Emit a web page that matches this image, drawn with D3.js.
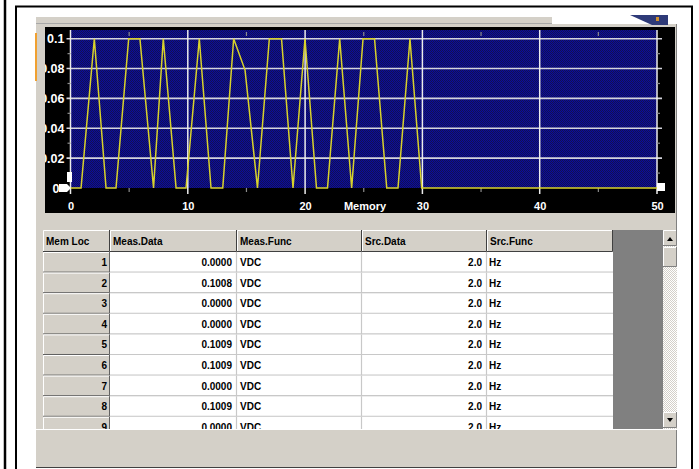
<!DOCTYPE html>
<html>
<head>
<meta charset="utf-8">
<script src="https://cdn.jsdelivr.net/npm/d3@7"></script>
<style>
  body { margin: 0; background: #fff; }
  svg { display: block; }
  .lbl { font-family: "Liberation Sans", Arial, sans-serif; font-weight: bold; }
</style>
</head>
<body>
<div id="chart"></div>
<script>
var memLoc = [0, 0.9, 2.03, 3.03, 3.88, 4.96, 5.92, 7.08, 7.91, 9.0,
              9.85, 10.98, 11.98, 12.98, 13.91, 14.88, 15.94, 16.95, 17.99, 18.97,
              19.99, 20.97, 21.91, 22.95, 23.97, 24.94, 25.92, 26.96, 27.92, 28.94,
              29.94, 50];
var measVal = [0, 0, 0.1, 0, 0, 0.1, 0.1, 0, 0.1, 0,
               0, 0.1, 0, 0, 0.1, 0.079, 0, 0.1, 0.1, 0,
               0.1, 0, 0, 0.1, 0, 0.1, 0.1, 0, 0, 0.1,
               0, 0];

var xTicks = [0, 10, 20, 30, 40, 50];
var yTicks = [0, 0.02, 0.04, 0.06, 0.08, 0.1];
var yTickLabels = ["0", "0.02", "0.04", "0.06", "0.08", "0.1"];
var xMinor = [5, 15, 25, 35, 45];
var yMinor = [0.01, 0.03, 0.05, 0.07, 0.09];

// table below the plot
var colNames = ["Mem Loc", "Meas.Data", "Meas.Func", "Src.Data", "Src.Func"];
var rowLoc = [1, 2, 3, 4, 5, 6, 7, 8, 9];
var measData = ["0.0000", "0.1008", "0.0000", "0.0000", "0.1009", "0.1009", "0.0000", "0.1009", "0.0000"];
var measFunc = ["VDC", "VDC", "VDC", "VDC", "VDC", "VDC", "VDC", "VDC", "VDC"];
var srcData = ["2.0", "2.0", "2.0", "2.0", "2.0", "2.0", "2.0", "2.0", "2.0"];
var srcFunc = ["Hz", "Hz", "Hz", "Hz", "Hz", "Hz", "Hz", "Hz", "Hz"];

var W = 699, H = 469;
var GRAY = "#d4d0c8";

var svg = d3.select("#chart").append("svg")
    .attr("width", W)
    .attr("height", H);

svg.append("rect").attr("width", W).attr("height", H).attr("fill", "#fff");

var defs = svg.append("defs");
var pat = defs.append("pattern")
    .attr("id", "navy")
    .attr("width", 2).attr("height", 2)
    .attr("patternUnits", "userSpaceOnUse");
pat.append("rect").attr("width", 2).attr("height", 2).attr("fill", "#0a0aa0");
pat.append("rect").attr("width", 1).attr("height", 1).attr("fill", "#121250");
pat.append("rect").attr("x", 1).attr("y", 1).attr("width", 1).attr("height", 1).attr("fill", "#121250");

var scr = defs.append("pattern")
    .attr("id", "track")
    .attr("width", 2).attr("height", 2)
    .attr("patternUnits", "userSpaceOnUse");
scr.append("rect").attr("width", 2).attr("height", 2).attr("fill", "#ffffff");
scr.append("rect").attr("width", 1).attr("height", 1).attr("fill", GRAY);
scr.append("rect").attr("x", 1).attr("y", 1).attr("width", 1).attr("height", 1).attr("fill", GRAY);

defs.append("clipPath").attr("id", "boxclip")
  .append("rect").attr("x", 45).attr("y", 27).attr("width", 630).attr("height", 186);
defs.append("clipPath").attr("id", "tblclip")
  .append("rect").attr("x", 43).attr("y", 230).attr("width", 620).attr("height", 199);

// outer frame
svg.append("line").attr("x1", 5).attr("x2", 5).attr("y1", 0).attr("y2", H)
    .attr("stroke", "#000").attr("stroke-width", 2.5);
svg.append("path").attr("d", "M16,470 V6.5 H692 V470")
    .attr("fill", "none").attr("stroke", "#000").attr("stroke-width", 2);

// grey window panel
svg.append("rect").attr("x", 36).attr("y", 17).attr("width", 641).attr("height", 451).attr("fill", GRAY);
svg.append("line").attr("x1", 36).attr("x2", 677).attr("y1", 23.5).attr("y2", 23.5).attr("stroke", "#a8a8a8");
svg.append("rect").attr("x", 552).attr("y", 16).attr("width", 126).attr("height", 8).attr("fill", "#fff");
svg.append("polygon").attr("points", "630,15 668,15 668,25 652,25").attr("fill", "#2e3a78");
svg.append("rect").attr("x", 656).attr("y", 17).attr("width", 3).attr("height", 4).attr("fill", "#d09030");
svg.append("rect").attr("x", 35).attr("y", 33).attr("width", 2).attr("height", 48).attr("fill", "#f0a030");
svg.append("line").attr("x1", 36).attr("x2", 677).attr("y1", 467.5).attr("y2", 467.5).attr("stroke", "#404040");
svg.append("line").attr("x1", 676.5).attr("x2", 676.5).attr("y1", 24).attr("y2", 468).attr("stroke", "#808080");

// plot box
svg.append("rect").attr("x", 45).attr("y", 27).attr("width", 630).attr("height", 186).attr("fill", "#000");

var x = d3.scaleLinear().domain([0, 50]).range([70.5, 657]);
var y = d3.scaleLinear().domain([0, 0.1]).range([188, 38.7]);

svg.append("rect")
    .attr("x", x(0)).attr("y", 30)
    .attr("width", x(50) - x(0)).attr("height", y(0) - 30)
    .attr("fill", "url(#navy)");

// grid
svg.append("g").selectAll("line").data(yTicks.slice(1)).enter().append("line")
    .attr("x1", x(0) - 4).attr("x2", x(50) + 5)
    .attr("y1", function(d) { return y(d); })
    .attr("y2", function(d) { return y(d); })
    .attr("stroke", "#d4d4dc").attr("stroke-width", 1.6);

svg.append("g").selectAll("line").data(xTicks).enter().append("line")
    .attr("x1", function(d) { return x(d); })
    .attr("x2", function(d) { return x(d); })
    .attr("y1", 30).attr("y2", 194)
    .attr("stroke", "#ececec").attr("stroke-width", 1.5);

// minor ticks
var minor = svg.append("g").attr("stroke", "#8c8c8c").attr("stroke-width", 1.2);
xMinor.forEach(function(d) {
  minor.append("line").attr("x1", x(d)).attr("x2", x(d)).attr("y1", 32).attr("y2", 36);
  minor.append("line").attr("x1", x(d)).attr("x2", x(d)).attr("y1", 188).attr("y2", 192);
});
yMinor.forEach(function(d) {
  minor.append("line").attr("x1", x(0) - 3).attr("x2", x(0)).attr("y1", y(d)).attr("y2", y(d));
  minor.append("line").attr("x1", x(50)).attr("x2", x(50) + 3).attr("y1", y(d)).attr("y2", y(d));
});

// waveform
var line = d3.line()
    .x(function(d, i) { return x(memLoc[i]); })
    .y(function(d) { return y(d); });

svg.append("path")
    .datum(measVal)
    .attr("d", line)
    .attr("fill", "none")
    .attr("stroke", "#d8d22c")
    .attr("stroke-width", 1.5);

// axes
var yAxis = svg.append("g")
    .attr("clip-path", "url(#boxclip)")
  .append("g")
    .attr("class", "lbl")
    .attr("transform", "translate(" + x(0) + ",0)")
    .call(d3.axisLeft(y).tickValues(yTicks).tickSize(0).tickPadding(6)
      .tickFormat(function(d, i) { return yTickLabels[i]; }));
yAxis.select(".domain").remove();
yAxis.selectAll("text").attr("fill", "#fff").style("font-size", "12.5px");
yAxis.selectAll("text").filter(function(d) { return d === 0; }).attr("x", -11);

var xAxis = svg.append("g")
    .attr("class", "lbl")
    .attr("transform", "translate(0," + y(0) + ")")
    .call(d3.axisBottom(x).tickValues(xTicks).tickSize(0).tickPadding(14));
xAxis.select(".domain").remove();
xAxis.selectAll("text").attr("fill", "#fff").style("font-size", "11px");

svg.append("text")
    .attr("class", "lbl")
    .attr("x", 365).attr("y", 210)
    .attr("text-anchor", "middle")
    .attr("fill", "#fff")
    .style("font-size", "11px")
    .text("Memory");

// cursor handles
svg.append("rect").attr("x", 67).attr("y", 172).attr("width", 5).attr("height", 10).attr("fill", "#fff");
svg.append("polygon").attr("points", "59,184 67,184 71,188 67,192 59,192").attr("fill", "#fff");
svg.append("rect").attr("x", 657).attr("y", 183).attr("width", 8).attr("height", 8).attr("fill", "#fff");

// table
var colX = [43, 110, 237, 362, 487, 613];
var headTop = 230, headH = 22, rowH = 20.6;

svg.append("rect").attr("x", 43).attr("y", headTop).attr("width", 620).attr("height", 199).attr("fill", "#808080");

var tbl = svg.append("g").attr("clip-path", "url(#tblclip)");

// header
colNames.forEach(function(name, c) {
  var x0 = colX[c], x1 = colX[c + 1];
  tbl.append("rect").attr("x", x0).attr("y", headTop).attr("width", x1 - x0).attr("height", headH).attr("fill", GRAY);
  tbl.append("path").attr("d", "M" + (x0 + 0.5) + "," + (headTop + headH) + " V" + (headTop + 0.5) + " H" + x1)
      .attr("fill", "none").attr("stroke", "#fff");
  tbl.append("path").attr("d", "M" + x0 + "," + (headTop + headH - 0.5) + " H" + (x1 - 0.5) + " V" + headTop)
      .attr("fill", "none").attr("stroke", "#404040");
  tbl.append("text").attr("class", "lbl")
      .attr("x", x0 + 3).attr("y", headTop + 15)
      .style("font-size", "10px").attr("fill", "#000")
      .text(name);
});

// rows
var rows = tbl.selectAll("g.row").data(rowLoc).enter().append("g")
    .attr("class", "row")
    .attr("transform", function(d, i) { return "translate(0," + (headTop + headH + i * rowH) + ")"; });

rows.append("rect").attr("x", colX[0]).attr("width", colX[1] - colX[0]).attr("height", rowH).attr("fill", GRAY);
rows.append("path").attr("d", "M" + (colX[0] + 0.5) + "," + rowH + " V0.5 H" + colX[1])
    .attr("fill", "none").attr("stroke", "#fff");
rows.append("path").attr("d", "M" + colX[0] + "," + (rowH - 0.5) + " H" + (colX[1] - 0.5) + " V0")
    .attr("fill", "none").attr("stroke", "#606060");
rows.append("rect").attr("x", colX[1]).attr("width", colX[5] - colX[1]).attr("height", rowH).attr("fill", "#fff");
rows.append("line").attr("x1", colX[1]).attr("x2", colX[5]).attr("y1", rowH - 0.5).attr("y2", rowH - 0.5)
    .attr("stroke", "#c8c8c8").attr("stroke-width", 1.2);
[2, 3, 4].forEach(function(c) {
  rows.append("line").attr("x1", colX[c] - 0.5).attr("x2", colX[c] - 0.5).attr("y1", 0).attr("y2", rowH)
      .attr("stroke", "#c8c8c8").attr("stroke-width", 1.2);
});

function cellText(sel, xp, anchor, fn) {
  sel.append("text").attr("class", "lbl")
      .attr("x", xp).attr("y", 14)
      .attr("text-anchor", anchor)
      .style("font-size", "10px").attr("fill", "#000")
      .text(fn);
}
cellText(rows, 107, "end", function(d) { return d; });
cellText(rows, 232, "end", function(d, i) { return measData[i]; });
cellText(rows, 240, "start", function(d, i) { return measFunc[i]; });
cellText(rows, 482, "end", function(d, i) { return srcData[i]; });
cellText(rows, 489, "start", function(d, i) { return srcFunc[i]; });

// scrollbar
var sb = svg.append("g");
sb.append("rect").attr("x", 663).attr("y", 230).attr("width", 14).attr("height", 199).attr("fill", "url(#track)");
function sbButton(y0, h) {
  sb.append("rect").attr("x", 663).attr("y", y0).attr("width", 14).attr("height", h).attr("fill", GRAY);
  sb.append("path").attr("d", "M663.5," + (y0 + h) + " V" + (y0 + 0.5) + " H677").attr("fill", "none").attr("stroke", "#fff");
  sb.append("path").attr("d", "M663," + (y0 + h - 0.5) + " H676.5 V" + y0).attr("fill", "none").attr("stroke", "#808080");
}
sbButton(230, 16);
sbButton(247, 20);
sbButton(412, 16);
sb.append("polygon").attr("points", "667,241 673,241 670,237").attr("fill", "#000");
sb.append("polygon").attr("points", "667,418 673,418 670,422").attr("fill", "#000");

// status area under the table
svg.append("line").attr("x1", 36).attr("x2", 677).attr("y1", 429.5).attr("y2", 429.5).attr("stroke", "#fff");
</script>
</body>
</html>
